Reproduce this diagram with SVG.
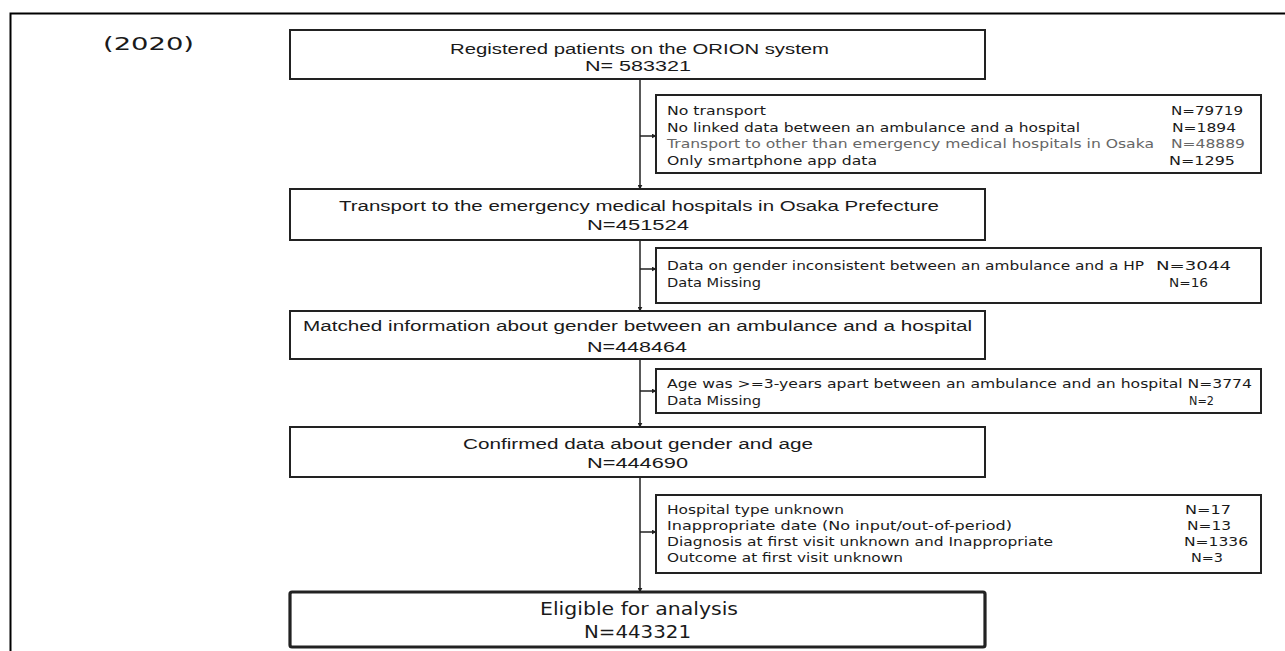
<svg xmlns="http://www.w3.org/2000/svg" width="1285" height="651" viewBox="0 0 1285 651">
<defs>
<style>
.box{fill:#fff;stroke:#222;stroke-width:2}
.thick{fill:#fff;stroke:#222;stroke-width:3.2}
.main{font-family:"Liberation Sans","Noto Sans",sans-serif;font-size:15.5px;fill:#1a1a1a}
.big{font-family:"DejaVu Sans","Liberation Sans",sans-serif;font-size:17px;fill:#1a1a1a}
.ex{font-family:"DejaVu Sans","Liberation Sans",sans-serif;font-size:12.5px;fill:#1a1a1a}
.grey{fill:#666}
.con{stroke:#222;stroke-width:1.5;fill:none}
</style>
<marker id="ah" viewBox="0 0 8 8" refX="7" refY="4" markerWidth="5" markerHeight="5" orient="auto" markerUnits="userSpaceOnUse">
<path d="M0,0 L8,4 L0,8 z" fill="#222"/>
</marker>
</defs>
<rect width="1285" height="651" fill="#fff"/>
<g id="frame">
<path d="M10.5,651 V13.5 H1285" fill="none" stroke="#000" stroke-width="2"/>
</g>
<g id="year">
<text class="big" x="103" y="50" textLength="91" lengthAdjust="spacingAndGlyphs" font-size="18">(2020)</text>
</g>
<g id="connectors">
<line class="con" x1="640" y1="79" x2="640" y2="189" marker-end="url(#ah)"/>
<line class="con" x1="640" y1="136" x2="656" y2="136" marker-end="url(#ah)"/>
<line class="con" x1="640" y1="240" x2="640" y2="311" marker-end="url(#ah)"/>
<line class="con" x1="640" y1="269" x2="656" y2="269" marker-end="url(#ah)"/>
<line class="con" x1="640" y1="359" x2="640" y2="427" marker-end="url(#ah)"/>
<line class="con" x1="640" y1="391" x2="656" y2="391" marker-end="url(#ah)"/>
<line class="con" x1="640" y1="477" x2="640" y2="592" marker-end="url(#ah)"/>
<line class="con" x1="640" y1="532" x2="656" y2="532" marker-end="url(#ah)"/>
</g>
<g id="n1">
<rect class="box" x="290" y="30" width="695" height="49"/>
<text class="main" x="450" y="53.5" textLength="379" lengthAdjust="spacingAndGlyphs">Registered patients on the ORION system</text>
<text class="main" x="585" y="71" textLength="106" lengthAdjust="spacingAndGlyphs">N= 583321</text>
</g>
<g id="x1">
<rect class="box" x="656" y="95" width="605" height="78"/>
<text class="ex" x="667" y="115" textLength="99" lengthAdjust="spacingAndGlyphs">No transport</text>
<text class="ex" x="667" y="131.7" textLength="413" lengthAdjust="spacingAndGlyphs">No linked data between an ambulance and a hospital</text>
<text class="ex grey" x="667" y="148.3" textLength="487" lengthAdjust="spacingAndGlyphs">Transport to other than emergency medical hospitals in Osaka</text>
<text class="ex" x="667" y="165" textLength="210" lengthAdjust="spacingAndGlyphs">Only smartphone app data</text>
<text class="ex" x="1171" y="115" textLength="72" lengthAdjust="spacingAndGlyphs">N=79719</text>
<text class="ex" x="1172" y="131.7" textLength="64" lengthAdjust="spacingAndGlyphs">N=1894</text>
<text class="ex grey" x="1171" y="148.3" textLength="74" lengthAdjust="spacingAndGlyphs">N=48889</text>
<text class="ex" x="1169" y="165" textLength="66" lengthAdjust="spacingAndGlyphs">N=1295</text>
</g>
<g id="n2">
<rect class="box" x="290" y="189" width="695" height="51"/>
<text class="main" x="339" y="211" textLength="600" lengthAdjust="spacingAndGlyphs">Transport to the emergency medical hospitals in Osaka Prefecture</text>
<text class="main" x="587" y="230" textLength="102" lengthAdjust="spacingAndGlyphs">N=451524</text>
</g>
<g id="x2">
<rect class="box" x="656" y="248" width="605" height="55"/>
<text class="ex" x="667" y="270" textLength="477" lengthAdjust="spacingAndGlyphs">Data on gender inconsistent between an ambulance and a HP</text>
<text class="ex" x="1156" y="270" textLength="75" lengthAdjust="spacingAndGlyphs">N=3044</text>
<text class="ex" x="667" y="287" textLength="94" lengthAdjust="spacingAndGlyphs">Data Missing</text>
<text class="ex" x="1169" y="287" textLength="39" lengthAdjust="spacingAndGlyphs">N=16</text>
</g>
<g id="n3">
<rect class="box" x="290" y="311" width="695" height="48"/>
<text class="main" x="303" y="331" textLength="669" lengthAdjust="spacingAndGlyphs">Matched information about gender between an ambulance and a hospital</text>
<text class="main" x="587" y="352" textLength="100" lengthAdjust="spacingAndGlyphs">N=448464</text>
</g>
<g id="x3">
<rect class="box" x="656" y="369" width="605" height="44"/>
<text class="ex" x="667" y="388" textLength="585" lengthAdjust="spacingAndGlyphs">Age was &gt;=3-years apart between an ambulance and an hospital N=3774</text>
<text class="ex" x="667" y="405" textLength="94" lengthAdjust="spacingAndGlyphs">Data Missing</text>
<text class="ex" x="1189" y="405" textLength="25" lengthAdjust="spacingAndGlyphs">N=2</text>
</g>
<g id="n4">
<rect class="box" x="290" y="427" width="695" height="50"/>
<text class="main" x="463" y="449" textLength="350" lengthAdjust="spacingAndGlyphs">Confirmed data about gender and age</text>
<text class="main" x="587" y="468" textLength="101" lengthAdjust="spacingAndGlyphs">N=444690</text>
</g>
<g id="x4">
<rect class="box" x="656" y="495" width="605" height="78"/>
<text class="ex" x="667" y="514" textLength="177" lengthAdjust="spacingAndGlyphs">Hospital type unknown</text>
<text class="ex" x="667" y="530" textLength="345" lengthAdjust="spacingAndGlyphs">Inappropriate date (No input/out-of-period)</text>
<text class="ex" x="667" y="546" textLength="386" lengthAdjust="spacingAndGlyphs">Diagnosis at first visit unknown and Inappropriate</text>
<text class="ex" x="667" y="562" textLength="236" lengthAdjust="spacingAndGlyphs">Outcome at first visit unknown</text>
<text class="ex" x="1185" y="514" textLength="46" lengthAdjust="spacingAndGlyphs">N=17</text>
<text class="ex" x="1187" y="530" textLength="44" lengthAdjust="spacingAndGlyphs">N=13</text>
<text class="ex" x="1184" y="546" textLength="64" lengthAdjust="spacingAndGlyphs">N=1336</text>
<text class="ex" x="1191" y="562" textLength="32" lengthAdjust="spacingAndGlyphs">N=3</text>
</g>
<g id="n5">
<rect class="thick" x="290" y="592" width="695" height="55" rx="2"/>
<text class="big" x="540" y="615" textLength="198" lengthAdjust="spacingAndGlyphs" font-size="18">Eligible for analysis</text>
<text class="big" x="584" y="638" textLength="107" lengthAdjust="spacingAndGlyphs" font-size="18">N=443321</text>
</g>
</svg>
